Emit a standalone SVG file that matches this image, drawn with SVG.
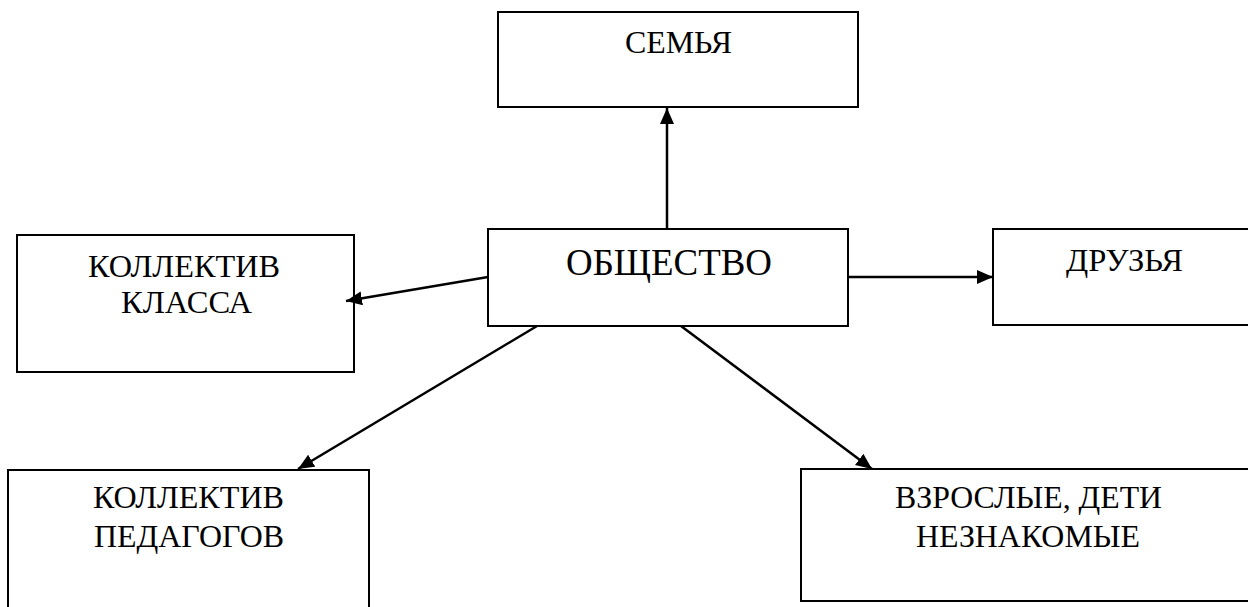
<svg xmlns="http://www.w3.org/2000/svg" width="1248" height="607" viewBox="0 0 1248 607">
<style>
.box{fill:#fff;stroke:#000;stroke-width:2}
.lbl{font-family:"Liberation Serif","Times New Roman",serif;font-size:32px;fill:#000}
.big{font-size:37px}
.con{stroke:#000;stroke-width:2.5;fill:none;marker-end:url(#ah)}
</style>
<defs>
<marker id="ah" markerUnits="userSpaceOnUse" markerWidth="17" markerHeight="15" refX="16" refY="7" orient="auto">
<path d="M0,0 L16,7 L0,14 z" fill="#000"/>
</marker>
</defs>
<rect width="1248" height="607" fill="#fff"/>
<g id="semya">
<rect class="box" x="498" y="12" width="360" height="95"/>
<text class="lbl" x="625" y="53" textLength="107" lengthAdjust="spacingAndGlyphs">СЕМЬЯ</text>
</g>
<g id="obshchestvo">
<rect class="box" x="488" y="229" width="360" height="97"/>
<text class="lbl big" x="566" y="275" textLength="206" lengthAdjust="spacingAndGlyphs">ОБЩЕСТВО</text>
</g>
<g id="druzya">
<rect class="box" x="993" y="229" width="262" height="96"/>
<text class="lbl" x="1066" y="271" textLength="117" lengthAdjust="spacingAndGlyphs">ДРУЗЬЯ</text>
</g>
<g id="kollektiv-klassa">
<rect class="box" x="17" y="235" width="337" height="137"/>
<text class="lbl" x="88" y="277" textLength="192" lengthAdjust="spacingAndGlyphs">КОЛЛЕКТИВ</text>
<text class="lbl" x="121" y="313" textLength="131" lengthAdjust="spacingAndGlyphs">КЛАССА</text>
</g>
<g id="kollektiv-pedagogov">
<rect class="box" x="8" y="470" width="361" height="150"/>
<text class="lbl" x="93" y="508" textLength="191" lengthAdjust="spacingAndGlyphs">КОЛЛЕКТИВ</text>
<text class="lbl" x="94" y="547" textLength="190" lengthAdjust="spacingAndGlyphs">ПЕДАГОГОВ</text>
</g>
<g id="vzroslye">
<rect class="box" x="801" y="469" width="455" height="132"/>
<text class="lbl" x="895" y="508" textLength="267" lengthAdjust="spacingAndGlyphs">ВЗРОСЛЫЕ, ДЕТИ</text>
<text class="lbl" x="916" y="547" textLength="224" lengthAdjust="spacingAndGlyphs">НЕЗНАКОМЫЕ</text>
</g>
<g id="connectors">
<line class="con" x1="667" y1="228" x2="667" y2="108"/>
<line class="con" x1="488" y1="277" x2="346" y2="301"/>
<line class="con" x1="848" y1="277" x2="993" y2="277"/>
<line class="con" x1="537" y1="326" x2="298" y2="469"/>
<line class="con" x1="681" y1="326" x2="872" y2="469"/>
</g>
</svg>
